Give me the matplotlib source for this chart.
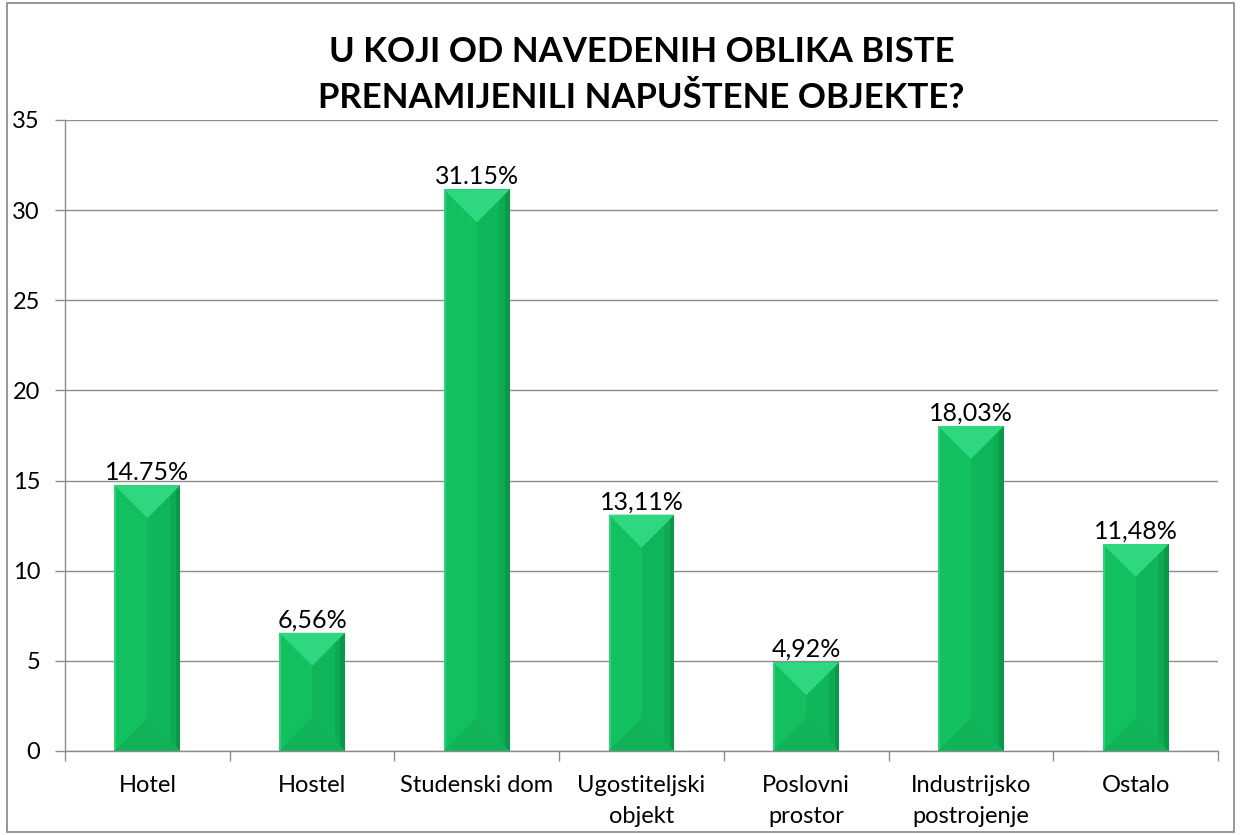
import matplotlib.pyplot as plt
from matplotlib.patches import Polygon, Rectangle

categories = ["Hotel", "Hostel", "Studenski dom", "Ugostiteljski\nobjekt",
              "Poslovni\nprostor", "Industrijsko\npostrojenje", "Ostalo"]
values = [14.75, 6.56, 31.15, 13.11, 4.92, 18.03, 11.48]
value_labels = ["14.75%", "6,56%", "31.15%", "13,11%", "4,92%", "18,03%", "11,48%"]
title = "U KOJI OD NAVEDENIH OBLIKA BISTE\nPRENAMIJENILI NAPUŠTENE OBJEKTE?"

plt.rcParams['font.family'] = ['Lato', 'DejaVu Sans']

W, H = 12.41, 8.35
fig = plt.figure(figsize=(W, H), dpi=100)
ax = fig.add_axes([0.0524, 0.1006, 0.9291, 0.7557])

# outer chart border
fig.patches.append(Rectangle((0.006, 0.003), 0.988, 0.994, transform=fig.transFigure,
                             fill=False, edgecolor='#868686', linewidth=1.2))

x = list(range(len(categories)))
bar_w = 0.4
bars = ax.bar(x, values, width=bar_w, color='#12c060', zorder=2)

ax.set_xlim(-0.5, len(categories) - 0.5)
ax.set_ylim(0, 35)
ax.set_yticks(range(0, 36, 5))
ax.grid(axis='y', color='#8c8c8c', linewidth=1.0, zorder=0)

# bevel depth: 45 degrees in pixels
pos = ax.get_position()
px_per_x = pos.width * W * 100 / len(categories)
px_per_y = pos.height * H * 100 / 35
depth = (bar_w / 2) * px_per_x / px_per_y

for b in bars:
    x0, w, h = b.get_x(), b.get_width(), b.get_height()
    xm = x0 + w / 2
    d = min(depth, h / 2)
    # right half slightly darker with vertical stripes
    ax.add_patch(Polygon([(xm, 0), (x0 + w, 0), (x0 + w, h), (xm, h)],
                         closed=True, color='#10b75a', zorder=3, linewidth=0))
    ax.add_patch(Polygon([(x0 + w * 0.84, 0), (x0 + w * 0.93, 0), (x0 + w * 0.93, h), (x0 + w * 0.84, h)],
                         closed=True, color='#0eab53', zorder=3, linewidth=0))
    ax.add_patch(Polygon([(x0 + w * 0.93, 0), (x0 + w, 0), (x0 + w, h), (x0 + w * 0.93, h)],
                         closed=True, color='#0a9948', zorder=3, linewidth=0))
    ax.add_patch(Polygon([(x0, 0), (x0 + w * 0.03, 0), (x0 + w * 0.03, h), (x0, h)],
                         closed=True, color='#33d07b', zorder=3, linewidth=0))
    # top facet (lighter), bottom facet (darker)
    ax.add_patch(Polygon([(x0, h), (x0 + w, h), (xm, h - d)],
                         closed=True, color='#2fd880', zorder=4, linewidth=0))
    ax.add_patch(Polygon([(x0, 0), (x0 + w, 0), (xm, d)],
                         closed=True, color='#10b358', zorder=4, linewidth=0))

for xi, v, lab in zip(x, values, value_labels):
    ax.annotate(lab, (xi, v), xytext=(0, 1), textcoords='offset points',
                ha='center', va='bottom', fontsize=18, color='black', zorder=5)

# category boundary ticks
ax.set_xticks([i + 0.5 for i in range(-1, len(categories))], minor=False)
ax.set_xticklabels([])
ax.set_xticks(x, minor=True)
ax.set_xticklabels(categories, minor=True, fontsize=17, linespacing=1.6)
ax.tick_params(axis='x', which='major', length=7, color='#8c8c8c', width=1.0)
ax.tick_params(axis='x', which='minor', length=0, pad=17)
ax.tick_params(axis='y', length=7, color='#8c8c8c', width=1.0, labelsize=17, pad=11)

for s in ['top', 'right']:
    ax.spines[s].set_visible(False)
for s in ['left', 'bottom']:
    ax.spines[s].set_color('#8c8c8c')
    ax.spines[s].set_linewidth(1.0)
    ax.spines[s].set_zorder(6)

fig.text(0.517, 0.910, title, ha='center', va='center', fontsize=25,
         fontweight='bold', linespacing=1.55)

fig.savefig('out.png', dpi=100)
